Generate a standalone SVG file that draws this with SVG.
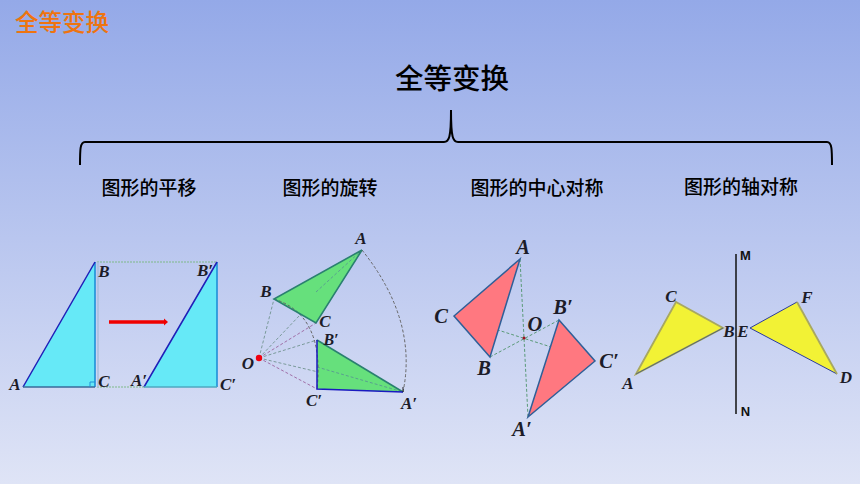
<svg xmlns="http://www.w3.org/2000/svg" width="860" height="484" viewBox="0 0 860 484">
<style>
.cn{font-family:"Noto Sans CJK SC","Noto Sans",sans-serif;fill:#000}
.h{font-size:19px;font-weight:500;text-anchor:middle}
.m{font-family:"Liberation Serif",serif;font-weight:bold;font-style:italic;font-size:17px;fill:#1c1c28;text-anchor:middle}
.l{font-size:20.500px}
.mn{font-family:"Liberation Sans",sans-serif;font-weight:bold;font-size:13px;fill:#111;text-anchor:middle}
.d{fill:none;stroke-width:1;stroke-dasharray:3 2}
</style>
<defs>
<linearGradient id="bg" x1="0" y1="0" x2="0" y2="1"><stop offset="0" stop-color="#94a9e8"/><stop offset="1" stop-color="#dfe4f6"/></linearGradient>
</defs>
<rect width="860" height="484" fill="url(#bg)"/>
<text class="cn" x="15" y="31" font-size="23.500" font-weight="500" style="fill:#ee7410">全等变换</text>
<text class="cn" x="452" y="89" font-size="28.500" font-weight="500" text-anchor="middle">全等变换</text>
<path d="M80 165C80 150 80 142 85 142H444C449 142 451 138 451 110C451 138 453 142 458 142H827C832 142 832 150 832 165" fill="none" stroke="#000" stroke-width="2"/>
<text class="cn h" x="149" y="195">图形的平移</text>
<text class="cn h" x="330" y="195">图形的旋转</text>
<text class="cn h" x="537" y="195">图形的中心对称</text>
<text class="cn h" x="741" y="194">图形的轴对称</text>

<g id="translation">
<path d="M97 262H217M97 387H144" fill="none" stroke="#7fb98a" stroke-width="1.200" stroke-dasharray="2 1"/>
<path d="M98 262V387" stroke="#a9bedd" stroke-width="1.500"/>
<path d="M23 387L95 262V387Z" fill="#66e9f7"/>
<path d="M144 387L217 262V387Z" fill="#66e9f7"/>
<path d="M95 262V387M217 262V387" stroke="#1e8fd8" stroke-width="1.600"/>
<path d="M23 387L95 262M144 387L217 262" stroke="#2020b8" stroke-width="1.500"/>
<path d="M23 387H95" stroke="#3a6a9a" stroke-width="1.500"/>
<path d="M144 387H217" stroke="#4fa8c0" stroke-width="1.500"/>
<path d="M90 387V382H95" fill="none" stroke="#1e8fd8"/>
<path d="M109 322H165" stroke="#f00000" stroke-width="3.500"/><path d="M164 318.500L168 322L164 325.500Z" fill="#f00000"/>
<text class="m" x="15" y="390">A</text><text class="m" x="104" y="277">B</text><text class="m" x="104" y="387">C</text>
<text class="m" x="205" y="276">B′</text><text class="m" x="139" y="386">A′</text><text class="m" x="228" y="390">C′</text>
</g>

<g id="rotation">
<path class="d" stroke="#7a9a9a" d="M259 358L274 299M259 358L362 250M259 358L317 340M259 358L403 392"/>
<path class="d" stroke="#a070a8" d="M259 358L316 323M259 358L317 389"/>
<path class="d" stroke="#666" d="M362 250Q418 320 403 392"/>
<path d="M362 250L274 299L316 323Z" fill="#66e07c"/>
<path d="M317 340L403 392L317 389Z" fill="#66e07c"/>
<path class="d" stroke="#5aa090" d="M316 292L362 250M317 367L403 392"/>
<path class="d" stroke="#666" d="M274 299Q325 315 317 389"/>
<path d="M362 250L274 299L316 323Z" fill="none" stroke="#2a8070" stroke-width="1.600"/>
<path d="M317 340L403 392" stroke="#2a8070" stroke-width="1.600"/>
<path d="M317 340V389L403 392" fill="none" stroke="#1a1ac0" stroke-width="1.500"/>
<path d="M403 392V387" stroke="#222" stroke-width="1"/>
<circle cx="259" cy="358" r="3.200" fill="#f00010"/>
<text class="m" x="361" y="244">A</text><text class="m" x="266" y="297">B</text><text class="m" x="325" y="327">C</text>
<text class="m" x="248" y="369">O</text><text class="m" x="331" y="345" style="font-size:16px">B′</text><text class="m" x="314" y="406">C′</text><text class="m" x="409" y="409">A′</text>
</g>

<g id="central-symmetry">
<path class="d" stroke="#5a9a78" d="M520 259L528 417M490 357L559 320M454 316L595 361"/>
<path d="M520 259L454 316L490 357Z" fill="#ff7880" stroke="#2f5f98" stroke-width="1.500"/>
<path d="M528 417L595 361L559 320Z" fill="#ff7880" stroke="#2f5f98" stroke-width="1.500"/>
<circle cx="524" cy="338" r="1.500" fill="#a01020"/>
<text class="m l" x="523" y="254">A</text><text class="m l" x="441" y="323">C</text><text class="m l" x="484" y="375">B</text>
<text class="m l" x="535" y="331">O</text><text class="m l" x="563" y="314">B′</text><text class="m l" x="609" y="368">C′</text><text class="m l" x="522" y="436">A′</text>
</g>

<g id="axial-symmetry">
<path d="M736 254V414" stroke="#111" stroke-width="1.500"/>
<path d="M636 374L676 302L723 328Z" fill="#f2f235" stroke="#a8a860" stroke-width="1.800"/>
<path d="M636 374L723 328" stroke="#5a6a70" stroke-width="1"/>
<path d="M837 374L797 302L750 328Z" fill="#f2f235"/>
<path d="M750 328L797 302M750 328L837 374" stroke="#2a3aa0" stroke-width="1"/>
<path d="M797 302L837 374" stroke="#a8a860" stroke-width="1.800"/>
<text class="mn" x="745.500" y="260">M</text><text class="mn" x="745.500" y="416">N</text>
<text class="m" x="671" y="302">C</text><text class="m" x="729" y="337">B</text><text class="m" x="628" y="389">A</text>
<text class="m" x="743" y="337">E</text><text class="m" x="807" y="303">F</text><text class="m" x="846" y="383">D</text>
</g>
</svg>
